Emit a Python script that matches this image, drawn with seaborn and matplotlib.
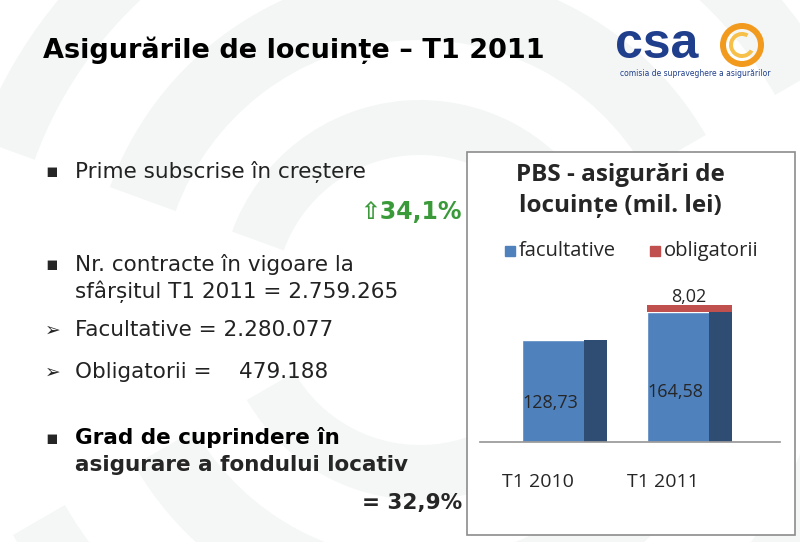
import matplotlib
matplotlib.use("Agg")
import matplotlib.pyplot as plt
import seaborn as sns
import pandas as pd
from matplotlib.patches import Rectangle, Wedge

categories = ["T1 2010", "T1 2011"]
facultative = [128.73, 164.58]
obligatorii = [0.0, 8.02]
value_labels_f = ["128,73", "164,58"]
value_labels_o = ["", "8,02"]

sns.set_theme(style="white")
plt.rcParams['font.family'] = ['DejaVu Sans']

W, H = 800, 542
fig = plt.figure(figsize=(8, 5.42), dpi=100)
fig.patch.set_facecolor("white")

def fx(x): return x / W
def fy(y): return 1 - y / H

bg = fig.add_axes([0, 0, 1, 1], zorder=-5)
bg.set_xlim(0, W); bg.set_ylim(H, 0); bg.axis("off")
for (cx, cy, r, w) in [(420, 300, 330, 70), (420, 300, 200, 55), (420, 300, 470, 60)]:
    bg.add_patch(Wedge((cx, cy), r, 200, 330, width=w, color="#f4f6f6", lw=0))
    bg.add_patch(Wedge((cx, cy), r, 20, 150, width=w, color="#f5f7f7", lw=0))

fig.text(fx(43), fy(50), "Asigurările de locuințe – T1 2011", fontsize=19.5,
         fontweight="bold", va="center", ha="left", color="black")

fig.text(fx(615), fy(45), "csa", fontsize=36, fontweight="bold", color="#1f3e8c",
         va="center", ha="left", family="Liberation Sans")
bg.add_patch(Wedge((742, 45), 22, 0, 360, width=6, color="#f29a1e", lw=0))
bg.add_patch(Wedge((742, 45), 13, 30, 300, width=4, color="#f7c04a", lw=0))
fig.text(fx(620), fy(74), "comisia de supraveghere a asigurărilor", fontsize=5.5,
         color="#1f3e8c", va="center", ha="left")

fs = 15.5
def bullet(y, txt, bold=False, marker="▪"):
    fig.text(fx(45), fy(y), marker, fontsize=fs - 2, va="center", ha="left")
    fig.text(fx(75), fy(y), txt, fontsize=fs, va="center", ha="left",
             fontweight="bold" if bold else "normal", color="#222222" if not bold else "black")

bullet(172, "Prime subscrise în creștere")
fig.text(fx(462), fy(212), "⇧34,1%", fontsize=17, fontweight="bold", color="#3a9a3a",
         va="center", ha="right")
bullet(265, "Nr. contracte în vigoare la")
fig.text(fx(75), fy(292), "sfârșitul T1 2011 = 2.759.265", fontsize=fs, va="center", color="#222222")
bullet(330, "Facultative = 2.280.077", marker="➢")
bullet(372, "Obligatorii =    479.188", marker="➢")
bullet(438, "Grad de cuprindere în", bold=True)
fig.text(fx(75), fy(465), "asigurare a fondului locativ", fontsize=fs, fontweight="bold", va="center")
fig.text(fx(462), fy(503), "= 32,9%", fontsize=fs, fontweight="bold", va="center", ha="right")

bg.add_patch(Rectangle((467, 152), 328, 383, fill=True, facecolor="white",
                       edgecolor="#8c8c8c", lw=1.2, zorder=1))
fig.text(fx(620), fy(175), "PBS - asigurări de", fontsize=17.5, fontweight="bold",
         ha="center", va="center", family="Open Sans")
fig.text(fx(620), fy(206), "locuințe (mil. lei)", fontsize=17.5, fontweight="bold",
         ha="center", va="center", family="Open Sans")
blue, red, dark = "#4f81bd", "#c0504d", "#2f4d72"
bg.add_patch(Rectangle((505, 246), 10, 10, color=blue, zorder=2))
fig.text(fx(519), fy(251), "facultative", fontsize=14.5, va="center", family="Open Sans")
bg.add_patch(Rectangle((650, 246), 10, 10, color=red, zorder=2))
fig.text(fx(664), fy(251), "obligatorii", fontsize=14.5, va="center", family="Open Sans")

ax = fig.add_axes([fx(480), fy(442), 300 / W, 152 / H])
df = pd.DataFrame({"cat": categories, "fac": facultative, "obl": obligatorii})
sns.barplot(data=df, x="cat", y="fac", color=blue, saturation=1, width=0.68, ax=ax)
bw = 0.68
sw = 0.18
for i, (f, o) in enumerate(zip(facultative, obligatorii)):
    ax.bar(i + bw / 2 - sw / 2, f, width=sw, color=dark, lw=0)
    if o > 0:
        ax.bar(i, o, bottom=f, width=bw, color=red, lw=0)
    ax.text(i - 0.11, f * 0.38, value_labels_f[i], ha="center", va="center",
            fontsize=13, family="Open Sans")
    if value_labels_o[i]:
        ax.text(i, f + o + 10, value_labels_o[i], ha="center", va="center",
                fontsize=13, family="Open Sans")
ax.set_xlim(-0.672, 1.728)
ax.set_ylim(0, 192)
ax.set_xlabel(""); ax.set_ylabel("")
ax.set_yticks([])
ax.set_xticks([-0.21, 0.79])
ax.set_xticklabels(categories)
ax.patch.set_alpha(0)
for s in ["top", "right", "left"]:
    ax.spines[s].set_visible(False)
ax.spines["bottom"].set_color("#999999")
ax.tick_params(axis="x", length=0, pad=22, labelsize=14)
for t in ax.get_xticklabels():
    t.set_family("Open Sans")

fig.savefig("out.png", dpi=100)
